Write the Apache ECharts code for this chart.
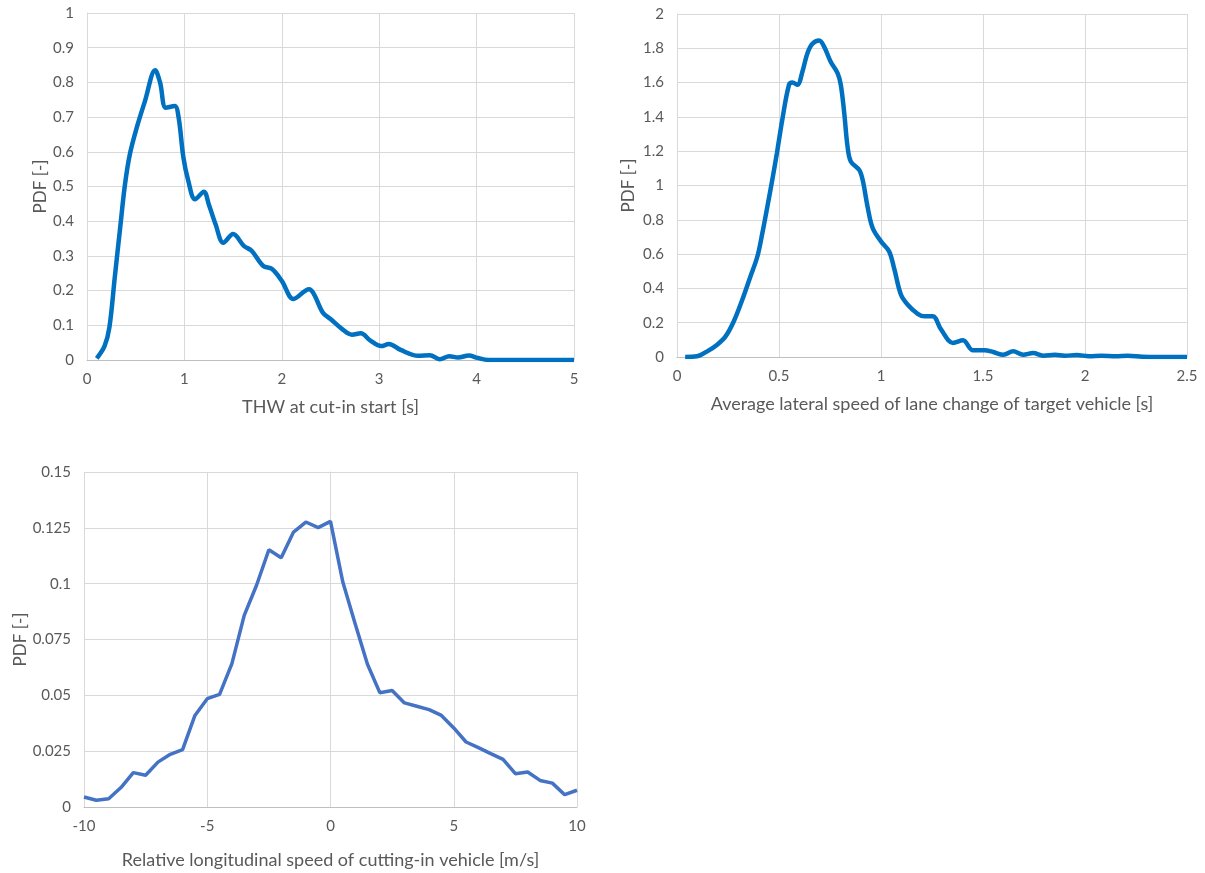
<!DOCTYPE html>
<html>
<head>
<meta charset="utf-8">
<script src="https://cdn.jsdelivr.net/npm/echarts@6/dist/echarts.min.js"></script>
<style>
  html, body { margin: 0; padding: 0; background: #fff; }
  #chart { width: 1205px; height: 873px; }
</style>
</head>
<body>
<div id="chart"></div>
<script>
// THW at cut-in start
var thwX = [0.1, 0.18, 0.23, 0.285, 0.34, 0.39, 0.44, 0.51, 0.595, 0.70, 0.75, 0.81, 0.90, 0.94, 0.99, 1.04, 1.11, 1.20, 1.25, 1.32, 1.40, 1.50, 1.61, 1.69, 1.81, 1.90, 2.00, 2.12, 2.28, 2.33, 2.42, 2.50, 2.62, 2.72, 2.81, 2.91, 3.02, 3.10, 3.22, 3.40, 3.52, 3.62, 3.72, 3.81, 3.92, 4.01, 4.12, 4.5, 5.0];
var thwY = [0.005, 0.04, 0.094, 0.238, 0.38, 0.506, 0.593, 0.669, 0.746, 0.835, 0.80, 0.727, 0.732, 0.70, 0.583, 0.516, 0.463, 0.485, 0.449, 0.391, 0.338, 0.363, 0.329, 0.315, 0.271, 0.262, 0.228, 0.176, 0.204, 0.19, 0.137, 0.118, 0.089, 0.073, 0.077, 0.056, 0.04, 0.046, 0.029, 0.012, 0.014, 0.002, 0.011, 0.007, 0.013, 0.006, 0, 0, 0];

// average lateral speed of lane change
var latX = [0.04, 0.098, 0.148, 0.197, 0.238, 0.278, 0.32, 0.36, 0.394, 0.418, 0.443, 0.467, 0.49, 0.516, 0.549, 0.566, 0.59, 0.615, 0.639, 0.664, 0.697, 0.721, 0.754, 0.787, 0.803, 0.82, 0.836, 0.852, 0.893, 0.91, 0.934, 0.959, 1.0, 1.04, 1.066, 1.098, 1.131, 1.18, 1.213, 1.254, 1.295, 1.353, 1.402, 1.451, 1.508, 1.55, 1.60, 1.648, 1.697, 1.746, 1.795, 1.853, 1.90, 1.96, 2.02, 2.08, 2.15, 2.21, 2.28, 2.35, 2.5];
var latY = [0, 0.004, 0.033, 0.072, 0.12, 0.207, 0.334, 0.47, 0.586, 0.72, 0.877, 1.033, 1.19, 1.383, 1.587, 1.60, 1.587, 1.665, 1.77, 1.826, 1.845, 1.81, 1.72, 1.655, 1.587, 1.42, 1.227, 1.14, 1.091, 1.033, 0.877, 0.752, 0.674, 0.615, 0.509, 0.363, 0.305, 0.252, 0.237, 0.237, 0.159, 0.082, 0.097, 0.039, 0.039, 0.029, 0.013, 0.033, 0.013, 0.023, 0.008, 0.013, 0.008, 0.011, 0.005, 0.007, 0.004, 0.008, 0.002, 0, 0];

// relative longitudinal speed of cutting-in vehicle
var relX = [-10, -9.5, -9, -8.5, -8, -7.5, -7, -6.5, -6, -5.5, -5, -4.5, -4, -3.5, -3, -2.5, -2, -1.5, -1, -0.5, 0, 0.5, 1, 1.5, 2, 2.5, 3, 3.5, 4, 4.5, 5, 5.5, 6, 6.5, 7, 7.5, 8, 8.5, 9, 9.5, 10];
var relY = [0.0045, 0.003, 0.0037, 0.0087, 0.0154, 0.0142, 0.0201, 0.0236, 0.0257, 0.041, 0.0485, 0.0504, 0.0642, 0.0858, 0.0993, 0.1152, 0.1116, 0.1231, 0.1276, 0.1251, 0.1279, 0.1007, 0.0821, 0.0639, 0.0512, 0.0522, 0.0466, 0.0451, 0.0436, 0.041, 0.0354, 0.0291, 0.0266, 0.0239, 0.0213, 0.0149, 0.0157, 0.0119, 0.0107, 0.0055, 0.0075];

function pairs(xs, ys) {
  return xs.map(function (x, i) { return [x, ys[i]]; });
}

var FONT = 'Lato, "Open Sans", sans-serif';
var TXT = '#595959';
var GRID = '#d9d9d9';

function xAxis(idx, min, max, interval, name, gap) {
  return {
    type: 'value', gridIndex: idx, min: min, max: max, interval: interval,
    name: name, nameLocation: 'middle', nameGap: gap,
    nameTextStyle: { color: TXT, fontSize: 18, fontFamily: FONT },
    axisLine: { show: true, lineStyle: { color: '#bfbfbf' } },
    axisTick: { show: false },
    axisLabel: { color: TXT, fontSize: 15, fontFamily: FONT, margin: 12 },
    splitLine: { show: true, lineStyle: { color: GRID, width: 1 } }
  };
}
function yAxis(idx, min, max, interval, gap) {
  return {
    type: 'value', gridIndex: idx, min: min, max: max, interval: interval,
    name: 'PDF [-]', nameLocation: 'middle', nameGap: gap,
    nameTextStyle: { color: TXT, fontSize: 17, fontFamily: FONT },
    axisLine: { show: true, lineStyle: { color: GRID } },
    axisTick: { show: false },
    axisLabel: { color: TXT, fontSize: 15, fontFamily: FONT, margin: 13 },
    splitLine: { show: true, lineStyle: { color: GRID, width: 1 } }
  };
}

var chart = echarts.init(document.getElementById('chart'));
chart.setOption({
  animation: false,
  backgroundColor: '#fff',
  grid: [
    { left: 87, top: 13, width: 487, height: 347 },
    { left: 677, top: 14, width: 510, height: 343 },
    { left: 84, top: 472, width: 493, height: 335 }
  ],
  xAxis: [
    xAxis(0, 0, 5, 1, 'THW at cut-in start [s]', 38),
    xAxis(1, 0, 2.5, 0.5, 'Average lateral speed of lane change of target vehicle [s]', 38),
    xAxis(2, -10, 10, 5, 'Relative longitudinal speed of cutting-in vehicle [m/s]', 44)
  ],
  yAxis: [
    yAxis(0, 0, 1, 0.1, 32),
    yAxis(1, 0, 2, 0.2, 40),
    yAxis(2, 0, 0.15, 0.025, 54)
  ],
  series: [
    {
      type: 'line', xAxisIndex: 0, yAxisIndex: 0, data: pairs(thwX, thwY),
      smooth: 0.35, showSymbol: false,
      lineStyle: { color: '#0070c0', width: 4.5 }
    },
    {
      type: 'line', xAxisIndex: 1, yAxisIndex: 1, data: pairs(latX, latY),
      smooth: 0.35, showSymbol: false,
      lineStyle: { color: '#0070c0', width: 4.5 }
    },
    {
      type: 'line', xAxisIndex: 2, yAxisIndex: 2, data: pairs(relX, relY),
      smooth: false, showSymbol: false,
      lineStyle: { color: '#4472c4', width: 3.5 }
    }
  ]
});
</script>
</body>
</html>
